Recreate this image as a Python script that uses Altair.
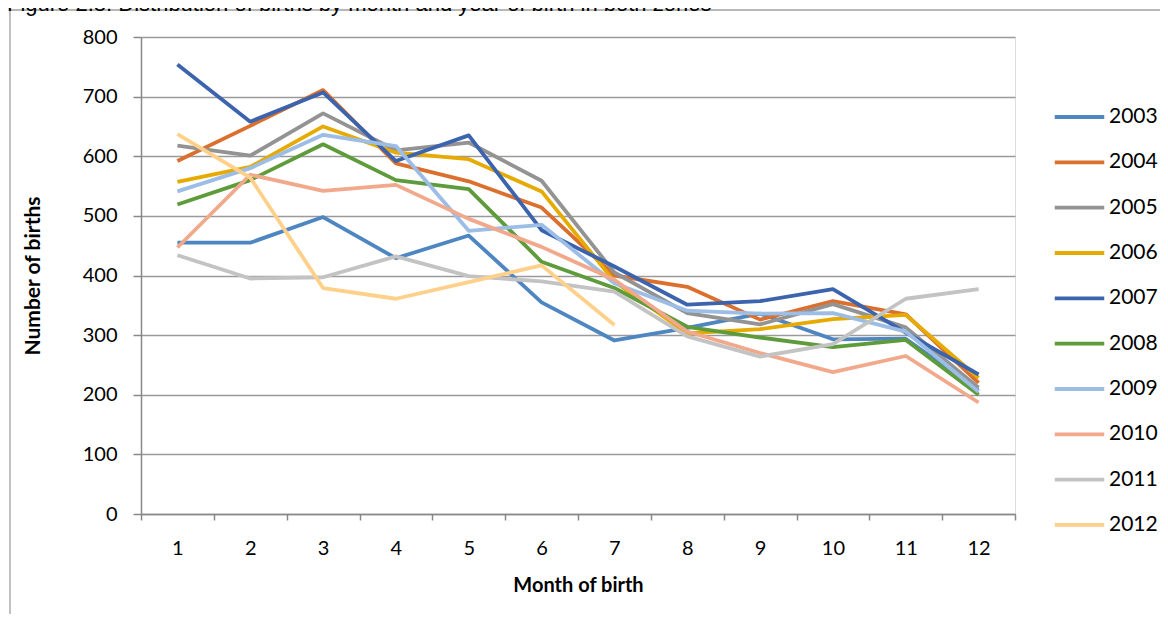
import altair as alt
import pandas as pd

# ---- data ----
months = list(range(1, 13))
years = ["2003", "2004", "2005", "2006", "2007", "2008", "2009", "2010", "2011", "2012"]

births_2003 = [455, 455, 498, 429, 467, 355, 291, 312, 336, 293, 294, 207]
births_2004 = [592, 651, 711, 588, 558, 514, 400, 381, 326, 357, 335, 220]
births_2005 = [618, 601, 672, 610, 623, 559, 405, 337, 318, 352, 313, 212]
births_2006 = [557, 582, 650, 606, 595, 541, 390, 303, 310, 327, 334, 228]
births_2007 = [754, 658, 707, 592, 635, 476, 415, 351, 357, 377, 304, 234]
births_2008 = [519, 560, 620, 560, 545, 423, 379, 314, 296, 280, 292, 200]
births_2009 = [541, 580, 636, 617, 475, 485, 387, 341, 336, 337, 306, 205]
births_2010 = [447, 569, 542, 552, 495, 448, 393, 306, 270, 238, 265, 187]
births_2011 = [434, 395, 397, 432, 399, 390, 373, 298, 264, 285, 361, 377]
births_2012 = [637, 564, 379, 361, 389, 417, 317]

series = [births_2003, births_2004, births_2005, births_2006, births_2007,
          births_2008, births_2009, births_2010, births_2011, births_2012]

colors = ["#4E86C2", "#DB6F2D", "#939393", "#E6AA00", "#3B63AE",
          "#5E9B3A", "#9CBDE5", "#F2A88B", "#C3C3C3", "#FFD08A"]

y_ticks = [0, 100, 200, 300, 400, 500, 600, 700, 800]

fig_title = "Figure 2.8: Distribution of births by month and year of birth in both zones"
x_title = "Month of birth"
y_title = "Number of births"

rows = []
for yr, vals in zip(years, series):
    for m, v in zip(months, vals):
        rows.append({"month": m, "year": yr, "births": v})
df = pd.DataFrame(rows)

one = pd.DataFrame({"k": [0]})

AX = "#888888"
LABEL_FONT = "Lato"

lines = alt.Chart(df).mark_line(strokeWidth=3.8, strokeJoin="round").encode(
    x=alt.X(
        "month:O",
        bandPosition=0.5,
        scale=alt.Scale(type="band", paddingInner=0, paddingOuter=0),
        axis=alt.Axis(
            tickBand="extent", grid=False, labelAngle=0,
            domainColor=AX, domainWidth=1.5, tickColor=AX, tickWidth=1.5, tickSize=6,
            labelFont=LABEL_FONT, labelFontSize=20, labelColor="black", labelPadding=18,
            title=x_title, titleFont=LABEL_FONT, titleFontSize=20, titleFontWeight="bold",
            titleColor="black", titleY=77, titleBaseline="alphabetic",
        ),
    ),
    y=alt.Y(
        "births:Q",
        scale=alt.Scale(domain=[0, 800], nice=False),
        axis=alt.Axis(
            values=y_ticks, grid=True, gridColor="#9A9A9A", gridWidth=1.3,
            domainColor=AX, domainWidth=1.5, tickColor=AX, tickWidth=1.5, tickSize=8,
            labelFont=LABEL_FONT, labelFontSize=20, labelColor="black", labelPadding=16,
            title=y_title, titleFont=LABEL_FONT, titleFontSize=21, titleFontWeight="bold",
            titleColor="black", titleAngle=270, titleX=-108, titleY=238.5,
            titleAlign="center", titleBaseline="middle",
        ),
    ),
    color=alt.Color(
        "year:N",
        scale=alt.Scale(domain=years, range=colors),
        legend=alt.Legend(
            orient="none", legendX=914, legendY=55.5, title=None, padding=0,
            symbolType="M-1.1,0H1.1", symbolSize=2025, symbolStrokeWidth=3.8,
            labelFont=LABEL_FONT, labelFontSize=21, labelColor="black",
            labelOffset=5, rowPadding=10.33,
        ),
    ),
)

frame_top = alt.Chart(one).mark_rule(color="#A0A0A0", strokeWidth=1.3).encode(
    x=alt.value(-131), x2=alt.value(1100), y=alt.value(-27)
)
frame_left = alt.Chart(one).mark_rule(color="#A0A0A0", strokeWidth=1.3).encode(
    x=alt.value(-131), y=alt.value(-27), y2=alt.value(600)
)
title_mark = alt.Chart(one).mark_text(
    align="left", baseline="alphabetic", font="Liberation Sans", fontSize=22, color="black"
).encode(x=alt.value(-134), y=alt.value(-26), text=alt.value(fig_title))

chart = alt.layer(frame_top, frame_left, title_mark, lines).properties(
    width=874, height=477,
    padding={"left": 133, "top": 29, "right": 145, "bottom": 100},
    autosize=alt.AutoSizeParams(type="none"),
).configure_view(strokeWidth=0).configure(background="white")

chart.save("out.html", embed_options={"renderer": "svg", "actions": False})
